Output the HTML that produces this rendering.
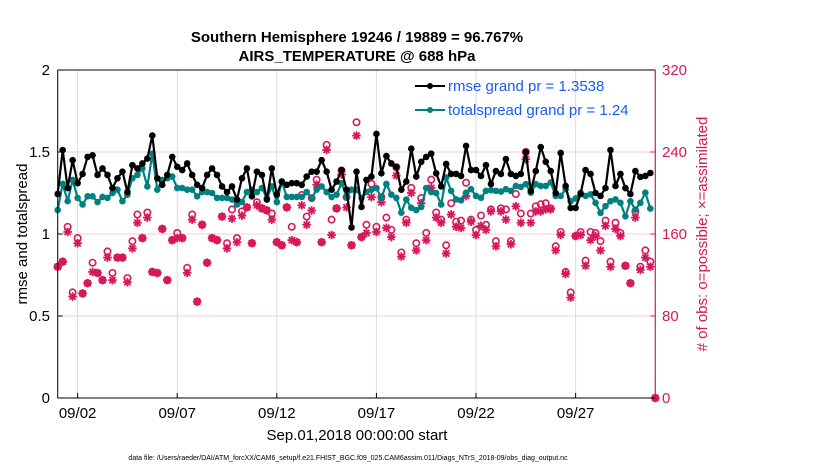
<!DOCTYPE html>
<html><head><meta charset="utf-8"><style>
body{margin:0;background:#fff;width:830px;height:470px;overflow:hidden}
svg{display:block;font-family:"Liberation Sans",sans-serif}
</style></head><body>
<svg id="chart" width="830" height="470" viewBox="0 0 830 470" xmlns="http://www.w3.org/2000/svg">
<g id="grid"></g>
<g id="series"></g>
<g id="axes"></g>
<text x="357" y="42" text-anchor="middle" font-size="15" font-weight="bold">Southern Hemisphere 19246 / 19889 = 96.767%</text>
<text x="357" y="61" text-anchor="middle" font-size="15" font-weight="bold">AIRS_TEMPERATURE @ 688 hPa</text>
<text transform="translate(27,234) rotate(-90)" text-anchor="middle" font-size="15">rmse and totalspread</text>
<text transform="translate(707,234) rotate(-90)" text-anchor="middle" font-size="15" fill="#d6185a"># of obs: o=possible; ×=assimilated</text>
<text x="357" y="440" text-anchor="middle" font-size="15">Sep.01,2018 00:00:00 start</text>
<text x="348" y="460" text-anchor="middle" font-size="7">data file: /Users/raeder/DAI/ATM_forcXX/CAM6_setup/f.e21.FHIST_BGC.f09_025.CAM6assim.011/Diags_NTrS_2018-09/obs_diag_output.nc</text>
<g>
<line x1="415" y1="86" x2="445" y2="86" stroke="#000" stroke-width="2"/><circle cx="430" cy="86" r="3" fill="#000"/>
<text x="448" y="91" font-size="15" fill="#1a5cf0">rmse grand pr = 1.3538</text>
<line x1="415" y1="110" x2="445" y2="110" stroke="#008080" stroke-width="2"/><circle cx="430" cy="110" r="3" fill="#008080"/>
<text x="448" y="115" font-size="15" fill="#1a5cf0">totalspread grand pr = 1.24</text>
</g>
</svg>
<script>
const xTickLabels=["09/02","09/07","09/12","09/17","09/22","09/27"];
const xTickDays=[1,6,11,16,21,26];
const yLeftTicks=[0,0.5,1,1.5,2];
const yLeftLabels=["0","0.5","1","1.5","2"];
const yRightTicks=[0,80,160,240,320];
const rmse=[1.244,1.512,1.28,1.45,1.31,1.366,1.47,1.48,1.36,1.40,1.36,1.28,1.34,1.38,1.256,1.42,1.40,1.43,1.46,1.60,1.34,
1.30,1.36,1.47,1.41,1.39,1.43,1.36,1.30,1.28,1.36,1.40,1.36,1.29,1.256,1.29,1.21,1.34,1.40,1.23,1.38,
1.36,1.21,1.40,1.24,1.32,1.30,1.31,1.31,1.30,1.35,1.38,1.38,1.45,1.38,1.27,1.32,1.39,1.27,1.04,1.38,
1.165,1.33,1.35,1.61,1.37,1.475,1.43,1.41,1.27,1.32,1.52,1.35,1.44,1.47,1.49,1.37,1.29,
1.427,1.366,1.366,1.354,1.537,1.39,1.39,1.354,1.42,1.305,1.384,1.366,1.457,1.366,1.354,1.366,1.5,1.262,1.384,1.53,1.44,1.384,1.25,1.494,1.293,1.159,1.159,1.244,1.39,1.366,1.25,1.232,1.28,1.512,1.293,1.366,1.28,1.244,1.384,1.348,1.354,1.372];
const totalspread=[1.146,1.305,1.20,1.33,1.22,1.18,1.23,1.23,1.195,1.226,1.22,1.25,1.27,1.20,1.24,1.34,1.36,1.40,1.29,1.49,1.27,
1.33,1.34,1.35,1.28,1.28,1.27,1.27,1.23,1.256,1.256,1.25,1.22,1.22,1.22,1.21,1.18,1.195,1.256,1.27,1.256,
1.28,1.22,1.29,1.195,1.32,1.226,1.226,1.226,1.226,1.256,1.22,1.27,1.29,1.256,1.226,1.24,1.31,1.226,1.27,1.27,
1.22,1.256,1.27,1.28,1.22,1.305,1.24,1.22,1.13,1.21,1.16,1.146,1.165,1.28,1.256,1.25,1.18,
1.345,1.263,1.211,1.205,1.252,1.273,1.232,1.221,1.263,1.267,1.263,1.259,1.273,1.263,1.293,1.287,1.304,1.252,1.304,1.293,1.293,1.314,1.232,1.232,1.273,1.20,1.217,1.252,1.232,1.242,1.19,1.129,1.17,1.20,1.211,1.19,1.108,1.20,1.149,1.19,1.252,1.155];
const nPossible=[128,133,167,103,156,102,112,132,122,115,143,122,137,137,117,153,179,156,181,123,122,
165,115,154,161,156,127,179,94,169,132,156,154,177,151,184,156,182,186,151,191,
185,183,180,152,149,186,167,152,198,177,195,213,152,247,174,185,222,196,149,269,
157,169,209,167,196,176,164,225,142,174,205,151,195,161,213,181,174,149,
190,172,173,210,174,164,178,169,184,153,185,184,153,199,180,240,180,187,189,190,185,
148,162,123,103,158,162,134,162,161,153,173,133,171,161,129,112,182,128,144,133,0];
const nAssim=[128,133,162,99,151,102,112,123,122,115,137,115,137,137,113,146,171,156,176,123,122,
165,115,154,156,156,122,174,94,169,132,156,154,177,146,175,152,178,186,151,188,
185,183,174,152,149,186,154,152,188,169,183,208,152,242,159,185,218,186,149,256,
157,161,196,162,191,166,157,217,138,171,200,144,190,154,205,176,171,141,
179,167,166,197,172,159,168,164,182,148,182,174,150,187,171,233,171,182,182,184,184,
144,159,121,98,158,159,129,154,158,144,168,128,165,158,129,112,176,125,137,128,0];

const NS='http://www.w3.org/2000/svg';
const X0=57.7,X1=655.3,YT=70,YB=398,DAYS=30;
const xs=d=>X0+(X1-X0)*d/DAYS;
const tOf=i=>i*0.25;
const yL=v=>YB-(YB-YT)*v/2;
const yR=c=>YB-(YB-YT)*c/320;
const PINK='#d6185a',TEAL='#008080';
function mk(tag,attrs,parent){const e=document.createElementNS(NS,tag);for(const k in attrs)e.setAttribute(k,attrs[k]);parent.appendChild(e);return e;}
const grid=document.getElementById('grid'),ser=document.getElementById('series'),ax=document.getElementById('axes');

xTickDays.forEach((d,k)=>{
  const gl=mk('line',{x1:xs(d),x2:xs(d),y1:YT,y2:YB,stroke:'#dcdcdc','stroke-width':1},grid);
  
  
  const tk=mk('line',{x1:xs(d),x2:xs(d),y1:YB,y2:YB-5,stroke:'#000'},ax);
  
  
  const t=mk('text',{x:xs(d),y:418,'text-anchor':'middle','font-size':15},ax);
  t.textContent=xTickLabels[k];
  
  
});
yLeftTicks.forEach((v,k)=>{
  if(v>0&&v<2){const gl=mk('line',{x1:X0,x2:X1,y1:yL(v),y2:yL(v),stroke:'#f6cbdb','stroke-width':1},grid);
  
  }
  const t=mk('text',{x:50,y:yL(v)+5,'text-anchor':'end','font-size':15},ax);
  t.textContent=yLeftLabels[k];
  
  
  mk('line',{x1:X0,x2:X0+5,y1:yL(v),y2:yL(v),stroke:'#000'},ax);
});
yRightTicks.forEach(c=>{
  const t=mk('text',{x:662,y:yR(c)+5,'font-size':15,fill:PINK},ax);
  t.textContent=String(c);
  
  
  mk('line',{x1:X1,x2:X1-5,y1:yR(c),y2:yR(c),stroke:PINK},ax);
});
mk('line',{x1:X0,x2:X0,y1:YT,y2:YB,stroke:'#000','stroke-width':1},ax);
mk('line',{x1:X0,x2:X1,y1:YB,y2:YB,stroke:'#000','stroke-width':1},ax);
mk('line',{x1:X0,x2:X1,y1:YT,y2:YT,stroke:'#000','stroke-width':1},ax);
mk('line',{x1:X1,x2:X1,y1:YT,y2:YB,stroke:PINK,'stroke-width':1.2},ax);

function star(cx,cy,r,parent){
  const g=mk('g',{stroke:PINK,'stroke-width':1.8},parent);
  
  
  mk('line',{x1:cx-r,x2:cx+r,y1:cy,y2:cy},g);mk('line',{x1:cx,x2:cx,y1:cy-r,y2:cy+r},g);
  const q=r*0.72;mk('line',{x1:cx-q,x2:cx+q,y1:cy-q,y2:cy+q},g);mk('line',{x1:cx-q,x2:cx+q,y1:cy+q,y2:cy-q},g);
}
nPossible.forEach((c,i)=>{
  const o=mk('circle',{cx:xs(tOf(i)),cy:yR(c),r:3.2,fill:'none',stroke:PINK,'stroke-width':1.6},ser);
  
  
});
nAssim.forEach((c,i)=>star(xs(tOf(i)),yR(c),4.3,ser));

function line(vals,color,name){
  const p=mk('polyline',{points:vals.map((v,i)=>xs(tOf(i))+','+yL(v)).join(' '),fill:'none',stroke:color,'stroke-width':2.2,'stroke-linejoin':'round'},ser);
  
  
  vals.forEach((v,i)=>{
    const m=mk('circle',{cx:xs(tOf(i)),cy:yL(v),r:3.3,fill:color},ser);
    
    
  });
}
line(totalspread,TEAL,'totalspread');
line(rmse,'#000','rmse');
</script>
</body></html>
